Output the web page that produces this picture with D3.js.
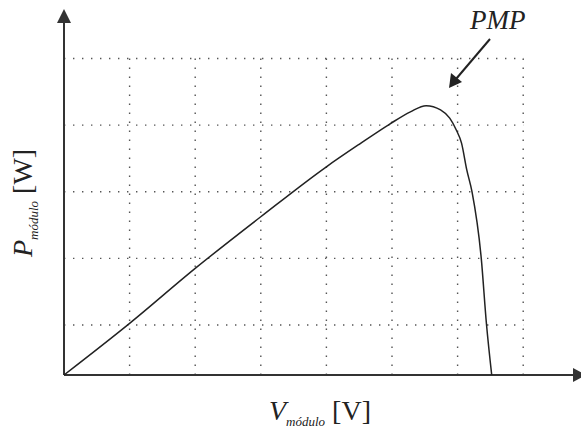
<!DOCTYPE html>
<html>
<head>
<meta charset="utf-8">
<script src="https://cdn.jsdelivr.net/npm/d3@7"></script>
<style>
  body { margin: 0; background: #fff; }
  svg { display: block; }
  text { font-family: "Liberation Serif", "DejaVu Serif", serif; fill: #222; }
</style>
</head>
<body>
<svg id="chart" width="581" height="435"></svg>
<script>
// curve (V in volts, P in watts, arbitrary units)
const vModulo = [0, 5, 10, 15, 20, 22.5, 24.8, 26.4, 27.6, 28.7, 29.4, 29.9, 30.3, 30.7, 31.1, 31.8, 32.2, 32.6];
const pModulo = [0, 31, 64, 95, 125, 138.5, 150.5, 158, 161.7, 159.2, 154.2, 147.1, 139.2, 123.1, 109.9, 70.3, 30.6, 0];
const xGrid = [5, 10, 15, 20, 25, 30, 35];
const yGrid = [30, 70, 110, 150, 190];

const svg = d3.select("#chart");
const x = d3.scaleLinear().domain([0, 35]).range([64, 523.2]);
const y = d3.scaleLinear().domain([0, 190]).range([375, 58.5]);

// grid
svg.append("g").selectAll("line")
    .data(xGrid)
    .enter().append("line")
    .attr("x1", d => x(d)).attr("x2", d => x(d))
    .attr("y1", y(190)).attr("y2", y(0))
    .attr("stroke", "#555")
    .attr("stroke-width", 1.4)
    .attr("stroke-dasharray", "1.4 7.6");

svg.append("g").selectAll("line")
    .data(yGrid)
    .enter().append("line")
    .attr("x1", x(0)).attr("x2", x(35))
    .attr("y1", d => y(d)).attr("y2", d => y(d))
    .attr("stroke", "#555")
    .attr("stroke-width", 1.4)
    .attr("stroke-dasharray", "1.4 7.6");

// axes with arrowheads
const axisColor = "#333";
svg.append("line")
    .attr("x1", x(0)).attr("x2", 575)
    .attr("y1", y(0)).attr("y2", y(0))
    .attr("stroke", axisColor).attr("stroke-width", 2);
svg.append("path")
    .attr("d", `M586,${y(0)} L573,${y(0) - 7} L573,${y(0) + 7} Z`)
    .attr("fill", axisColor);

svg.append("line")
    .attr("x1", x(0)).attr("x2", x(0))
    .attr("y1", y(0)).attr("y2", 20)
    .attr("stroke", axisColor).attr("stroke-width", 2);
svg.append("path")
    .attr("d", `M${x(0)},9 L${x(0) - 7},23 L${x(0) + 7},23 Z`)
    .attr("fill", axisColor);

// P-V curve
const line = d3.line()
    .x((d, i) => x(vModulo[i]))
    .y(d => y(d))
    .curve(d3.curveMonotoneX);

svg.append("path")
    .datum(pModulo)
    .attr("d", line)
    .attr("fill", "none")
    .attr("stroke", "#222")
    .attr("stroke-width", 1.5);

// PMP annotation
svg.append("text")
    .attr("x", 470).attr("y", 29)
    .attr("font-size", 27)
    .attr("font-style", "italic")
    .text("PMP");

svg.append("line")
    .attr("x1", 490).attr("y1", 39)
    .attr("x2", 456).attr("y2", 79)
    .attr("stroke", "#222").attr("stroke-width", 2);
svg.append("path")
    .attr("d", "M449,88 L451,73 L462,82 Z")
    .attr("fill", "#222");

// axis labels
const xl = svg.append("text")
    .attr("x", 269).attr("y", 420)
    .attr("font-size", 28);
xl.append("tspan").attr("font-style", "italic").text("V");
xl.append("tspan").attr("font-style", "italic").attr("font-size", 13).attr("dy", 6).text("módulo");
xl.append("tspan").attr("dy", -6).text(" [V]");

const yl = svg.append("text")
    .attr("transform", "translate(32,257) rotate(-90)")
    .attr("font-size", 28);
yl.append("tspan").attr("font-style", "italic").text("P");
yl.append("tspan").attr("font-style", "italic").attr("font-size", 13).attr("dy", 6).text("módulo");
yl.append("tspan").attr("dy", -6).text(" [W]");
</script>
</body>
</html>
